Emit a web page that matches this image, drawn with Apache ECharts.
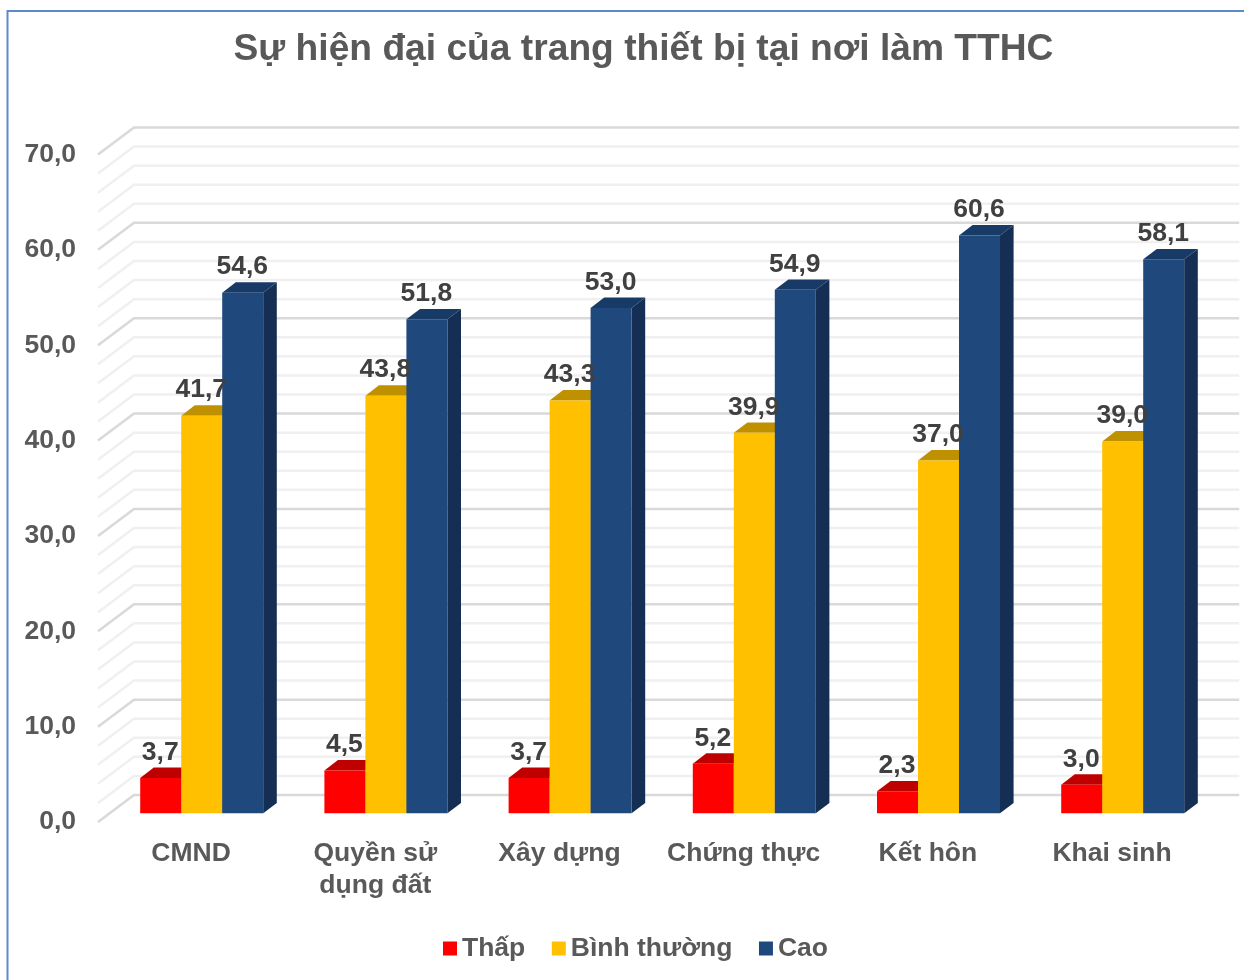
<!DOCTYPE html>
<html><head><meta charset="utf-8">
<style>html,body{margin:0;padding:0;background:#fff}#c{width:1244px;height:980px}</style>
<script src="https://cdn.jsdelivr.net/npm/echarts@6/dist/echarts.min.js"></script>
</head><body><div id="c"></div>
<script>
const categories = ['CMND', 'Quyền sử\ndụng đất', 'Xây dựng', 'Chứng thực', 'Kết hôn', 'Khai sinh'];
const thap = [3.7, 4.5, 3.7, 5.2, 2.3, 3.0];
const binhThuong = [41.7, 43.8, 43.3, 39.9, 37.0, 39.0];
const cao = [54.6, 51.8, 53.0, 54.9, 60.6, 58.1];
const seriesNames = ['Thấp', 'Bình thường', 'Cao'];
const gridValues = [0,2,4,6,8,10,12,14,16,18,20,22,24,26,28,30,32,34,36,38,40,42,44,46,48,50,52,54,56,58,60,62,64,66,68,70];

const FONT = '"Liberation Sans", Arial, sans-serif';
const WALL = {dx: 36, dy: 27};
const BAR = {front: {dx: 11.6, dy: 8.7}, depth: {dx: 13.6, dy: 10.4}, width: 41, offset: [-41, 0, 41]};
const palette = [
  {front: '#ff0000', top: '#bf0000', side: '#bf0000'},
  {front: '#ffc000', top: '#bf9000', side: '#bf9000'},
  {front: '#1f497d', top: '#183a66', side: '#152f54'}
];
const values = [thap, binhThuong, cao];

function barItem(sIdx, colors) {
  return function (params, api) {
    const i = api.value(0), v = api.value(1);
    const base = api.coord([i, 0]), top = api.coord([i, v]);
    const cx = base[0] + BAR.front.dx + BAR.offset[sIdx];
    const l = cx - BAR.width / 2, r = cx + BAR.width / 2;
    const yb = base[1] - BAR.front.dy, yt = top[1] - BAR.front.dy;
    const dx = BAR.depth.dx, dy = BAR.depth.dy;
    return {
      type: 'group',
      children: [
        {type: 'polygon', shape: {points: [[r, yb], [r + dx, yb - dy], [r + dx, yt - dy], [r, yt]]}, style: {fill: colors.side}},
        {type: 'polygon', shape: {points: [[l, yt], [l + dx, yt - dy], [r + dx, yt - dy], [r, yt]]}, style: {fill: colors.top}},
        {type: 'rect', shape: {x: l, y: yt, width: r - l, height: yb - yt}, style: {fill: colors.front}}
      ]
    };
  };
}
function labelItem(params, api) {
  const i = api.value(0), v = api.value(1), s = api.value(2);
  const top = api.coord([i, v]);
  return {type: 'text', style: {text: v.toFixed(1).replace('.', ','),
    x: top[0] + BAR.front.dx + BAR.offset[s] - 0.5, y: top[1] - BAR.front.dy - 25.5,
    align: 'center', verticalAlign: 'middle', font: 'bold 26.5px ' + FONT, fill: '#404040'}};
}
function wallItem(params, api) {
  const v = api.value(1);
  const a = api.coord([0, v]);
  const band = api.size([1, 0])[0];
  const x0 = a[0] - band / 2, y0 = a[1];
  const major = v % 10 === 0;
  return {type: 'polyline', silent: true,
    shape: {points: [[x0, y0], [x0 + WALL.dx, y0 - WALL.dy], [x0 + band * categories.length + WALL.dx, y0 - WALL.dy]]},
    style: {fill: null, stroke: major ? '#d9d9d9' : '#f0f0f0', lineWidth: 2.5}};
}

const labelData = [];
values.forEach((arr, s) => arr.forEach((v, i) => labelData.push([i, v, s])));

const chart = echarts.init(document.getElementById('c'), null, {renderer: 'canvas'});
chart.setOption({
  animation: false,
  backgroundColor: '#fff',
  title: {text: 'Sự hiện đại của trang thiết bị tại nơi làm TTHC', left: 638.5, top: 26, textAlign: 'center',
    textStyle: {fontFamily: FONT, fontWeight: 'bold', fontSize: 37.2, color: '#595959'}},
  legend: {data: seriesNames, left: 438, top: 930, itemWidth: 14, itemHeight: 14, itemGap: 26.5, icon: 'rect',
    textStyle: {fontFamily: FONT, fontWeight: 'bold', fontSize: 26.5, color: '#595959'}},
  grid: {left: 98, top: 154.5, width: 1105.2, height: 667.5},
  xAxis: {type: 'category', data: categories, axisLine: {show: false}, axisTick: {show: false}, splitLine: {show: false},
    axisLabel: {interval: 0, margin: 16, lineHeight: 32, padding: [0, 0, 0, 2], fontFamily: FONT, fontWeight: 'bold', fontSize: 26.5, color: '#595959'}},
  yAxis: {type: 'value', min: 0, max: 70, interval: 10, axisLine: {show: false}, axisTick: {show: false}, splitLine: {show: false},
    axisLabel: {margin: 22, padding: [5, 0, 0, 0], fontFamily: FONT, fontWeight: 'bold', fontSize: 26.5, color: '#595959', formatter: v => v.toFixed(1).replace('.', ',')}},
  graphic: [{type: 'polyline', silent: true, z: 100, shape: {points: [[7.5, 980], [7.5, 11], [1244, 11]]}, style: {fill: null, stroke: '#5b8bc9', lineWidth: 2}}],
  series: [
    {type: 'custom', name: 'wall', coordinateSystem: 'cartesian2d', silent: true, clip: false, z: 1,
      encode: {x: 0, y: 1}, data: gridValues.map(v => [0, v]), renderItem: wallItem}
  ].concat(seriesNames.map((n, s) => ({
    type: 'custom', name: n, coordinateSystem: 'cartesian2d', clip: false, z: 2 + s,
    itemStyle: {color: palette[s].front},
    encode: {x: 0, y: 1},
    data: values[s].map((v, i) => [i, v]),
    renderItem: barItem(s, palette[s])
  }))).concat([
    {type: 'custom', name: 'labels', coordinateSystem: 'cartesian2d', silent: true, clip: false, z: 10,
      encode: {x: 0, y: 1}, data: labelData, renderItem: labelItem}
  ])
});
</script></body></html>
